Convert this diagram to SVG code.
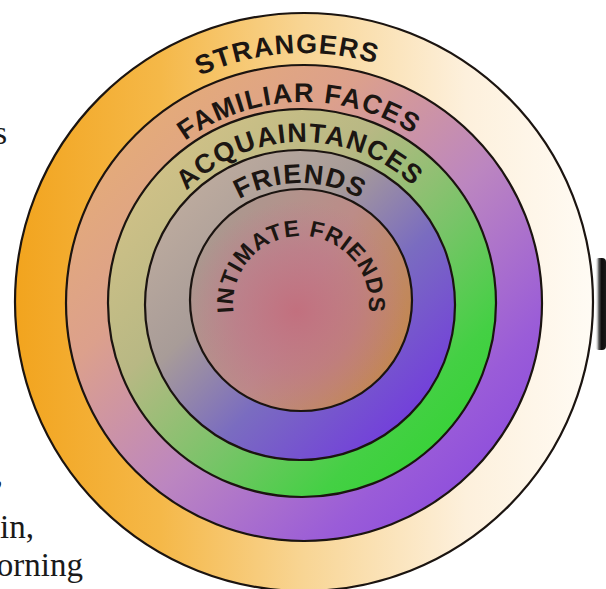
<svg xmlns="http://www.w3.org/2000/svg" width="606" height="589" viewBox="0 0 606 589">
<style>
.ring{stroke:#1b1410;stroke-width:2.2}
.lbl{font-family:"Liberation Sans",Arial,sans-serif;font-weight:bold;font-size:27px;fill:#1c1612;letter-spacing:1.3px}
.lbl2{font-family:"Liberation Sans",Arial,sans-serif;font-weight:bold;font-size:23px;fill:#1c1612;letter-spacing:1px}
.side{font-family:"Liberation Serif","Times New Roman",serif;font-size:33px;fill:#1a1a1a}
</style>
<defs>
<linearGradient id="g1" x1="0" y1="0" x2="1" y2="0">
<stop offset="0" stop-color="#F2A41E"/>
<stop offset="0.25" stop-color="#F5B848"/>
<stop offset="0.5" stop-color="#F8D594"/>
<stop offset="0.78" stop-color="#FDF0DC"/>
<stop offset="1" stop-color="#FFFBF4"/>
</linearGradient>
<linearGradient id="g2" x1="0.05" y1="0.05" x2="0.95" y2="0.95">
<stop offset="0" stop-color="#E8B070"/>
<stop offset="0.3" stop-color="#DCA08C"/>
<stop offset="0.55" stop-color="#BC86C0"/>
<stop offset="0.8" stop-color="#9A5CD8"/>
<stop offset="1" stop-color="#8644E0"/>
</linearGradient>
<linearGradient id="g3" x1="0.05" y1="0.05" x2="0.95" y2="0.95">
<stop offset="0" stop-color="#D8C488"/>
<stop offset="0.35" stop-color="#B8B884"/>
<stop offset="0.6" stop-color="#78C468"/>
<stop offset="0.8" stop-color="#44D044"/>
<stop offset="1" stop-color="#2ED42E"/>
</linearGradient>
<linearGradient id="g4" x1="0.05" y1="0.05" x2="0.95" y2="0.95">
<stop offset="0" stop-color="#C4B0A0"/>
<stop offset="0.35" stop-color="#A89C98"/>
<stop offset="0.6" stop-color="#7A6CC0"/>
<stop offset="1" stop-color="#7030E4"/>
</linearGradient>
<linearGradient id="g5" x1="0" y1="0.2" x2="1" y2="0.8">
<stop offset="0" stop-color="#A89A90"/>
<stop offset="0.5" stop-color="#BC8C88"/>
<stop offset="1" stop-color="#C48648"/>
</linearGradient>
<radialGradient id="g5r" cx="0.48" cy="0.55" r="0.5">
<stop offset="0" stop-color="#C2707E" stop-opacity="1"/>
<stop offset="0.55" stop-color="#C0768A" stop-opacity="0.6"/>
<stop offset="1" stop-color="#C07890" stop-opacity="0"/>
</radialGradient>
<linearGradient id="gs" x1="0" y1="0" x2="1" y2="0">
<stop offset="0" stop-color="#ffffff" stop-opacity="0"/>
<stop offset="0.35" stop-color="#555"/>
<stop offset="0.6" stop-color="#0c0c0c"/>
<stop offset="1" stop-color="#1a1a1a"/>
</linearGradient>
<path id="p1" d="M 55,302 A 249,249 0 0 1 553,302"/>
<path id="p2" d="M 103,303 A 201,201 0 0 1 505,303"/>
<path id="p3" d="M 141,303 A 161,161 0 0 1 463,303"/>
<path id="p4" d="M 178,305 A 122,122 0 0 1 422,305"/>
<path id="p5" d="M 237.1,327.3 A 68,68 0 1 1 364.9,327.3"/>
</defs>
<rect width="606" height="589" fill="#ffffff"/>
<g id="side-text">
<text class="side" x="7" y="144" text-anchor="end">s</text>
<text class="side" x="3" y="485" text-anchor="end">,</text>
<text class="side" x="34" y="538" text-anchor="end">in,</text>
<text class="side" x="83" y="576" text-anchor="end">orning</text>
<rect x="595" y="258" width="11" height="92" rx="4" fill="url(#gs)"/>
</g>
<g id="strangers">
<circle class="ring" cx="304" cy="302" r="289" fill="url(#g1)"/>
<text class="lbl"><textPath href="#p1" startOffset="374" text-anchor="middle">STRANGERS</textPath></text>
</g>
<g id="familiar-faces">
<circle class="ring" cx="304" cy="303" r="238" fill="url(#g2)"/>
<text class="lbl"><textPath href="#p2" startOffset="310" text-anchor="middle">FAMILIAR FACES</textPath></text>
</g>
<g id="acquaintances">
<circle class="ring" cx="302" cy="303" r="194" fill="url(#g3)"/>
<text class="lbl"><textPath href="#p3" startOffset="250" text-anchor="middle">ACQUAINTANCES</textPath></text>
</g>
<g id="friends">
<circle class="ring" cx="300" cy="305" r="155" fill="url(#g4)"/>
<text class="lbl"><textPath href="#p4" startOffset="191.6" text-anchor="middle">FRIENDS</textPath></text>
</g>
<g id="intimate-friends">
<circle class="ring" cx="301" cy="300" r="111" fill="url(#g5)"/>
<circle cx="301" cy="300" r="110" fill="url(#g5r)"/>
<text class="lbl2"><textPath href="#p5" startOffset="130.5" text-anchor="middle">INTIMATE FRIENDS</textPath></text>
</g>
</svg>
